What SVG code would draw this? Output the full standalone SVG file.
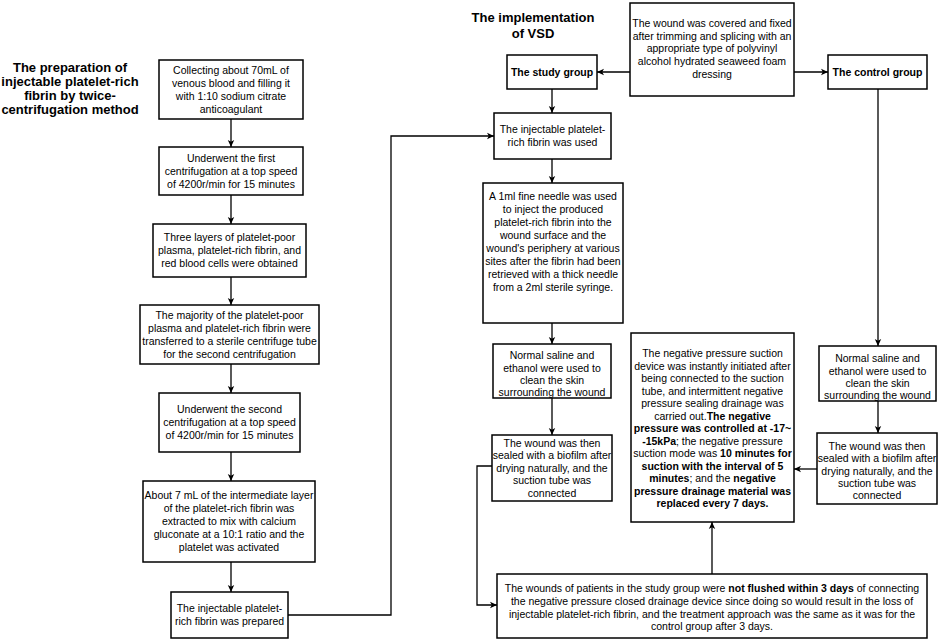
<svg xmlns="http://www.w3.org/2000/svg" width="941" height="641" viewBox="0 0 941 641">
<defs>
<marker id="ah" markerWidth="8" markerHeight="8" refX="7" refY="4" orient="auto" markerUnits="userSpaceOnUse">
<path d="M0,0.8 L7,4 L0,7.2 L1.8,4 Z" fill="#000"/>
</marker>
<style>
.b{fill:#fff;stroke:#000;stroke-width:1.5}
.t{font-family:"Liberation Sans",Arial,Helvetica,sans-serif;font-size:10.5px;fill:#000;text-anchor:middle}
.h{font-family:"Liberation Sans",Arial,Helvetica,sans-serif;font-size:13px;font-weight:bold;fill:#000;text-anchor:middle}
.bd{font-weight:bold}
.c{fill:none;stroke:#000;stroke-width:1.3;marker-end:url(#ah)}
</style>
</defs>
<rect width="941" height="641" fill="#fff"/>

<g id="title-left">
<text class="h" x="70" y="71.5">The preparation of</text>
<text class="h" x="70" y="85.8">injectable platelet-rich</text>
<text class="h" x="70" y="100.1">fibrin by twice-</text>
<text class="h" x="70" y="114.4">centrifugation method</text>
</g>
<g id="title-vsd">
<text class="h" x="533" y="21.5">The implementation</text>
<text class="h" x="533" y="37.5">of VSD</text>
</g>

<g id="connectors">
<path class="c" d="M231,119 V147"/>
<path class="c" d="M231,195 V224"/>
<path class="c" d="M231,277 V305"/>
<path class="c" d="M231,364 V393"/>
<path class="c" d="M231,452 V481"/>
<path class="c" d="M231,562 V592"/>
<path class="c" d="M288,615 H391 V136 H494"/>
<path class="c" d="M630,72 H597"/>
<path class="c" d="M794,72 H828"/>
<path class="c" d="M552,89 V113"/>
<path class="c" d="M552,159 V183"/>
<path class="c" d="M552,323 V344"/>
<path class="c" d="M552,398 V435"/>
<path class="c" d="M878,89 V346"/>
<path class="c" d="M878,401 V433"/>
<path class="c" d="M817,469 H794"/>
<path class="c" d="M712,574 V522"/>
<path class="c" d="M492,466 H477 V605 H497"/>
</g>

<g id="n1">
<rect class="b" x="159" y="60" width="144" height="59"/>
<text class="t" x="231" y="73.7">Collecting about 70mL of</text>
<text class="t" x="231" y="86.7">venous blood and filling it</text>
<text class="t" x="231" y="99.7">with 1:10 sodium citrate</text>
<text class="t" x="231" y="112.7">anticoagulant</text>
</g>
<g id="n2">
<rect class="b" x="159" y="147" width="144" height="48"/>
<text class="t" x="231" y="161.7">Underwent the first</text>
<text class="t" x="231" y="174.7">centrifugation at a top speed</text>
<text class="t" x="231" y="187.7">of 4200r/min for 15 minutes</text>
</g>
<g id="n3">
<rect class="b" x="153" y="224" width="153" height="53"/>
<text class="t" x="229.5" y="241.2">Three layers of platelet-poor</text>
<text class="t" x="229.5" y="254.2">plasma, platelet-rich fibrin, and</text>
<text class="t" x="229.5" y="267.2">red blood cells were obtained</text>
</g>
<g id="n4">
<rect class="b" x="140" y="305" width="179" height="59"/>
<text class="t" x="229.5" y="318.7">The majority of the platelet-poor</text>
<text class="t" x="229.5" y="331.7">plasma and platelet-rich fibrin were</text>
<text class="t" x="229.5" y="344.7">transferred to a sterile centrifuge tube</text>
<text class="t" x="229.5" y="357.7">for the second centrifugation</text>
</g>
<g id="n5">
<rect class="b" x="159" y="393" width="141" height="59"/>
<text class="t" x="229.5" y="413.2">Underwent the second</text>
<text class="t" x="229.5" y="426.2">centrifugation at a top speed</text>
<text class="t" x="229.5" y="439.2">of 4200r/min for 15 minutes</text>
</g>
<g id="n6">
<rect class="b" x="143" y="481" width="172" height="81"/>
<text class="t" x="229" y="499.2">About 7 mL of the intermediate layer</text>
<text class="t" x="229" y="512.2">of the platelet-rich fibrin was</text>
<text class="t" x="229" y="525.2">extracted to mix with calcium</text>
<text class="t" x="229" y="538.2">gluconate at a 10:1 ratio and the</text>
<text class="t" x="229" y="551.2">platelet was activated</text>
</g>
<g id="n7">
<rect class="b" x="171" y="592" width="117" height="46"/>
<text class="t" x="229.5" y="612.2">The injectable platelet-</text>
<text class="t" x="229.5" y="625.2">rich fibrin was prepared</text>
</g>

<g id="covered">
<rect class="b" x="630" y="3" width="164" height="93"/>
<text class="t" x="712" y="27">The wound was covered and fixed</text>
<text class="t" x="712" y="39.7">after trimming and splicing with an</text>
<text class="t" x="712" y="52.4">appropriate type of polyvinyl</text>
<text class="t" x="712" y="65.1">alcohol hydrated seaweed foam</text>
<text class="t" x="712" y="77.8">dressing</text>
</g>
<g id="study">
<rect class="b" x="507" y="55" width="90" height="34"/>
<text class="t bd" x="552" y="75.8">The study group</text>
</g>
<g id="control">
<rect class="b" x="828" y="55" width="99" height="34"/>
<text class="t bd" x="877.5" y="75.8">The control group</text>
</g>
<g id="used">
<rect class="b" x="494" y="113" width="117" height="46"/>
<text class="t" x="552.5" y="133.2">The injectable platelet-</text>
<text class="t" x="552.5" y="146.2">rich fibrin was used</text>
</g>
<g id="needle">
<rect class="b" x="483" y="183" width="140" height="140"/>
<text class="t" x="553" y="200">A 1ml fine needle was used</text>
<text class="t" x="553" y="213">to inject the produced</text>
<text class="t" x="553" y="226">platelet-rich fibrin into the</text>
<text class="t" x="553" y="239">wound surface and the</text>
<text class="t" x="553" y="252">wound's periphery at various</text>
<text class="t" x="553" y="265">sites after the fibrin had been</text>
<text class="t" x="553" y="278">retrieved with a thick needle</text>
<text class="t" x="553" y="291">from a 2ml sterile syringe.</text>
</g>
<g id="saline-study">
<rect class="b" x="493" y="344" width="118" height="54"/>
<text class="t" x="552" y="359">Normal saline and</text>
<text class="t" x="552" y="371.5">ethanol were used to</text>
<text class="t" x="552" y="384">clean the skin</text>
<text class="t" x="552" y="396.5" dy="-1">surrounding the wound</text>
</g>
<g id="sealed-study">
<rect class="b" x="492" y="435" width="120" height="66"/>
<text class="t" x="552" y="446.5">The wound was then</text>
<text class="t" x="552" y="459">sealed with a biofilm after</text>
<text class="t" x="552" y="471.5">drying naturally, and the</text>
<text class="t" x="552" y="484">suction tube was</text>
<text class="t" x="552" y="496.5">connected</text>
</g>
<g id="negative">
<rect class="b" x="631" y="333" width="163" height="189"/>
<text class="t" x="712.5" y="357">The negative pressure suction</text>
<text class="t" x="712.5" y="369.5">device was instantly initiated after</text>
<text class="t" x="712.5" y="382">being connected to the suction</text>
<text class="t" x="712.5" y="394.5">tube, and intermittent negative</text>
<text class="t" x="712.5" y="407">pressure sealing drainage was</text>
<text class="t" x="712.5" y="419.5">carried out.<tspan class="bd">The negative</tspan></text>
<text class="t bd" x="712.5" y="432">pressure was controlled at -17~</text>
<text class="t" x="712.5" y="444.5"><tspan class="bd">-15kPa</tspan>; the negative pressure</text>
<text class="t" x="712.5" y="457">suction mode was <tspan class="bd">10 minutes for</tspan></text>
<text class="t bd" x="712.5" y="469.5">suction with the interval of 5</text>
<text class="t" x="712.5" y="482"><tspan class="bd">minutes</tspan>; and the <tspan class="bd">negative</tspan></text>
<text class="t bd" x="712.5" y="494.5">pressure drainage material was</text>
<text class="t bd" x="712.5" y="507">replaced every 7 days.</text>
</g>
<g id="saline-control">
<rect class="b" x="819" y="346" width="117" height="55"/>
<text class="t" x="877.5" y="362">Normal saline and</text>
<text class="t" x="877.5" y="374.5">ethanol were used to</text>
<text class="t" x="877.5" y="387">clean the skin</text>
<text class="t" x="877.5" y="399.5" dy="-1">surrounding the wound</text>
</g>
<g id="sealed-control">
<rect class="b" x="817" y="433" width="120" height="71"/>
<text class="t" x="877" y="450">The wound was then</text>
<text class="t" x="877" y="462.3">sealed with a biofilm after</text>
<text class="t" x="877" y="474.6">drying naturally, and the</text>
<text class="t" x="877" y="486.9">suction tube was</text>
<text class="t" x="877" y="499.2">connected</text>
</g>
<g id="bottom">
<rect class="b" x="497" y="574" width="430" height="64"/>
<text class="t" x="712" y="592">The wounds of patients in the study group were <tspan class="bd">not flushed within 3 days</tspan> of connecting</text>
<text class="t" x="712" y="604.8">the negative pressure closed drainage device since doing so would result in the loss of</text>
<text class="t" x="712" y="617.6">injectable platelet-rich fibrin, and the treatment approach was the same as it was for the</text>
<text class="t" x="712" y="630.4">control group after 3 days.</text>
</g>
</svg>
